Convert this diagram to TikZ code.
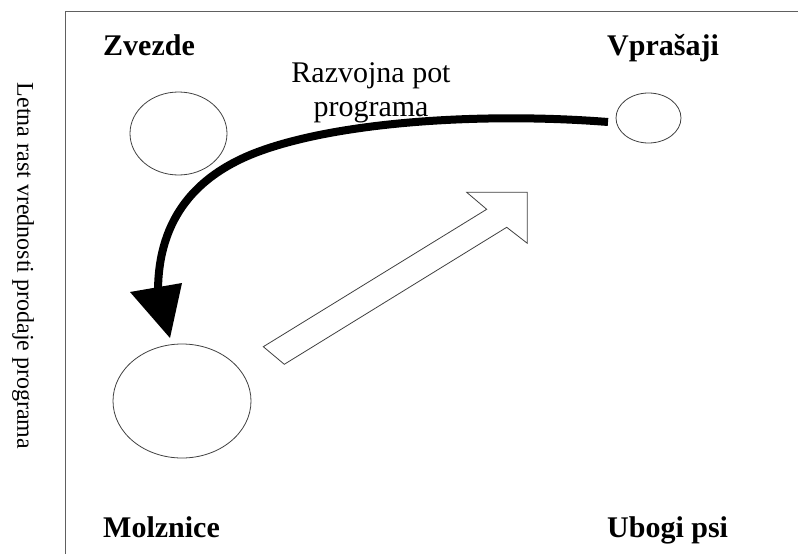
\documentclass[tikz,border=0pt]{standalone}
\usepackage{fontspec}
\setmainfont{Liberation Serif}
\usetikzlibrary{shapes.geometric}
\definecolor{framegray}{HTML}{606060}
\definecolor{linegray}{HTML}{404040}
\begin{document}
\begin{tikzpicture}[x=1pt,y=-1pt,
  quad/.style={anchor=base west,inner sep=0pt,font=\fontsize{30}{36}\selectfont\bfseries},
  bubble/.style={ellipse,draw=linegray,line width=0.8pt,inner sep=0pt},
  bigarrow/.style={line width=8pt,black},
  hollow/.style={draw=linegray,line width=0.8pt,fill=white,line join=miter}]
\useasboundingbox (0,0) rectangle (798,554);
% frame
\draw[framegray,line width=1pt] (65,554) -- (65,11) -- (798,11);
% axis label
\node[rotate=-90,inner sep=0pt,font=\fontsize{24}{28}\selectfont] (ylab) at (23,266) {Letna rast vrednosti prodaje programa};
% quadrant labels
\node[quad] (zvezde) at (103,55) {Zvezde};
\node[quad] (vprasaji) at (607,55) {Vprašaji};
\node[quad] (molznice) at (103,537) {Molznice};
\node[quad] (ubogi) at (607,537) {Ubogi psi};
% bubbles
\node[bubble,minimum width=97pt,minimum height=83pt] (zv) at (178.5,133.5) {};
\node[bubble,minimum width=65pt,minimum height=50pt] (vp) at (648.5,118) {};
\node[bubble,minimum width=138pt,minimum height=114pt] (mo) at (182,401) {};
% development path
\node[align=center,inner sep=0pt,font=\fontsize{30}{34}\selectfont,anchor=base] (path) at (371,116) {Razvojna pot\\programa};
\coordinate (pstart) at (608,122);
\coordinate (pmid) at (250,155);
\coordinate (pend) at (158,292);
\draw[bigarrow] (pstart) .. controls (480,112) and (330,122) .. (pmid)
  .. controls (200,176) and (158,215) .. (pend);
\coordinate (hl) at (130,292);
\coordinate (hr) at (182,283);
\coordinate (htip) at (170,338);
\fill[black] (hl) -- (hr) -- (htip) -- cycle;
% hollow arrow
\coordinate (t1) at (263.3,346.7);
\coordinate (t2) at (284.3,364.3);
\coordinate (n1) at (486.7,209.3);
\coordinate (n2) at (506.7,227.3);
\coordinate (h1) at (466.7,192.3);
\coordinate (h2) at (527.3,192.3);
\coordinate (h3) at (527.3,243.3);
\draw[hollow] (t1) -- (n1) -- (h1) -- (h2) -- (h3) -- (n2) -- (t2) -- cycle;
\end{tikzpicture}
\end{document}
